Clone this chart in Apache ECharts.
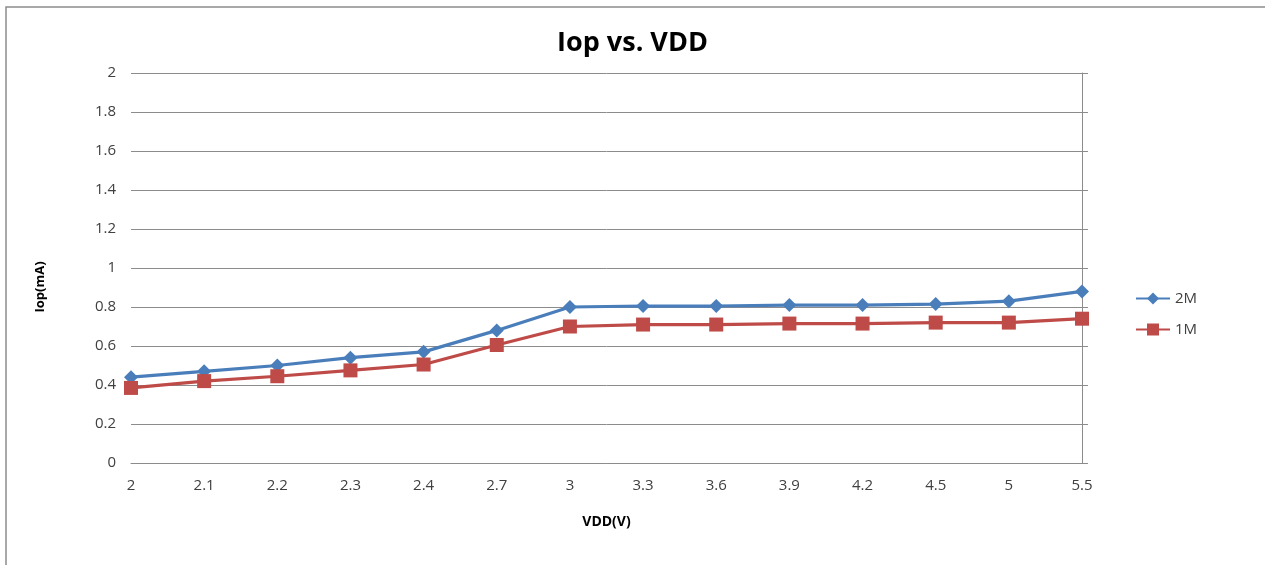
<!DOCTYPE html>
<html><head><meta charset="utf-8">
<script src="https://cdn.jsdelivr.net/npm/echarts@6/dist/echarts.min.js"></script>
<style>html,body{margin:0;padding:0;background:#fff}#c{width:1265px;height:565px}</style>
</head><body><div id="c"></div>
<script>
const categories = ['2','2.1','2.2','2.3','2.4','2.7','3','3.3','3.6','3.9','4.2','4.5','5','5.5'];
const series2M = [0.44,0.47,0.50,0.54,0.57,0.68,0.80,0.805,0.805,0.81,0.81,0.815,0.83,0.88];
const series1M = [0.385,0.42,0.445,0.475,0.505,0.605,0.70,0.71,0.71,0.715,0.715,0.72,0.72,0.74];
const font = "'Open Sans', 'Liberation Sans', sans-serif";
const chart = echarts.init(document.getElementById('c'));
chart.setOption({
  animation:false,
  backgroundColor:'#fff',
  graphic:[
    {type:'rect',shape:{x:6,y:7,width:1300,height:600},style:{fill:'none',stroke:'#8c8c8c',lineWidth:1.5},silent:true},
    {type:'text',x:40,y:287,rotation:Math.PI/2,style:{text:'Iop(mA)',fontFamily:font,fontSize:13,fontWeight:'bold',fill:'#000',align:'center',verticalAlign:'middle'},silent:true}
  ],
  title:{text:'Iop vs. VDD',left:'center',top:25,textStyle:{fontFamily:font,fontSize:27,fontWeight:'bold',color:'#000'}},
  legend:{orient:'vertical',left:1130,top:286,itemGap:16,itemWidth:34,itemHeight:15,
    textStyle:{fontFamily:font,fontSize:15,color:'#404040'},data:['2M','1M']},
  grid:{left:131,right:183,top:73,bottom:102},
  xAxis:{type:'category',data:categories,boundaryGap:false,
    name:'VDD(V)',nameLocation:'middle',nameGap:52,
    nameTextStyle:{fontFamily:font,fontSize:14,fontWeight:'bold',color:'#000'},
    axisLine:{lineStyle:{color:'#8c8c8c'}},axisTick:{show:false},
    axisLabel:{fontFamily:font,fontSize:15,color:'#404040',margin:15},splitLine:{show:false}},
  yAxis:[{type:'value',min:0,max:2,interval:0.2,
    axisLine:{show:false},axisTick:{show:false},
    axisLabel:{fontFamily:font,fontSize:15,color:'#404040',margin:15,formatter:v=>String(+v.toFixed(1))},
    splitLine:{lineStyle:{color:'#8c8c8c',width:1}}},
    {type:'value',min:0,max:2,interval:0.2,position:'right',
    axisLine:{show:true,lineStyle:{color:'#8c8c8c'}},axisTick:{show:true,length:6,lineStyle:{color:'#8c8c8c'}},
    axisLabel:{show:false},splitLine:{show:false}}],
  series:[
    {name:'2M',type:'line',data:series2M,symbol:'diamond',symbolSize:14,
      lineStyle:{color:'#4A7EBB',width:3.2},itemStyle:{color:'#4A7EBB'}},
    {name:'1M',type:'line',data:series1M,symbol:'rect',symbolSize:14,
      lineStyle:{color:'#BE4B48',width:3.2},itemStyle:{color:'#BE4B48'}}
  ]
});
</script></body></html>
